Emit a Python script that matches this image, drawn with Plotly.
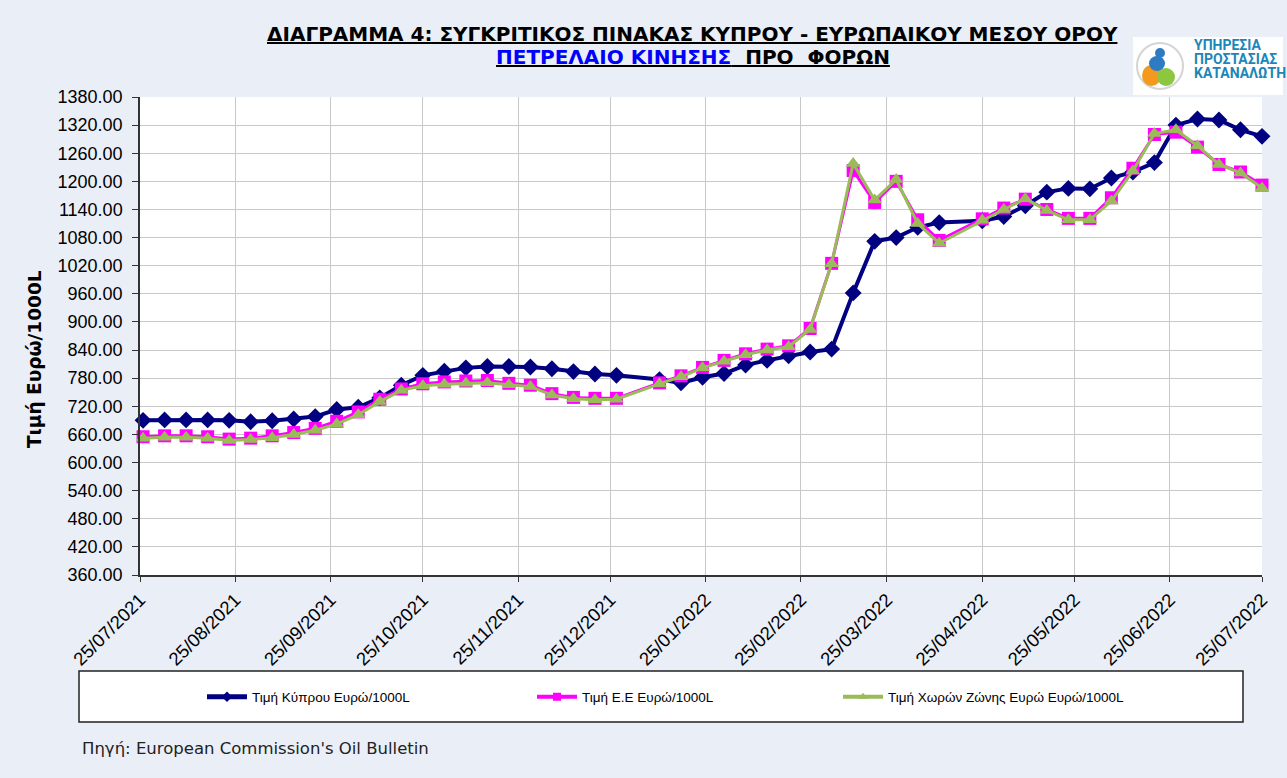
import plotly.graph_objects as go

# ---------------- data ----------------
dates = [
    "2021-07-26", "2021-08-02", "2021-08-09", "2021-08-16", "2021-08-23", "2021-08-30",
    "2021-09-06", "2021-09-13", "2021-09-20", "2021-09-27",
    "2021-10-04", "2021-10-11", "2021-10-18", "2021-10-25",
    "2021-11-01", "2021-11-08", "2021-11-15", "2021-11-22", "2021-11-29",
    "2021-12-06", "2021-12-13", "2021-12-20", "2021-12-27",
    "2022-01-10", "2022-01-17", "2022-01-24", "2022-01-31",
    "2022-02-07", "2022-02-14", "2022-02-21", "2022-02-28",
    "2022-03-07", "2022-03-14", "2022-03-21", "2022-03-28",
    "2022-04-04", "2022-04-11", "2022-04-25",
    "2022-05-02", "2022-05-09", "2022-05-16", "2022-05-23", "2022-05-30",
    "2022-06-06", "2022-06-13", "2022-06-20", "2022-06-27",
    "2022-07-04", "2022-07-11", "2022-07-18", "2022-07-25",
]

cyprus = [
    690, 691, 691, 691, 690, 687,
    689, 693, 698, 713,
    718, 738, 765, 786,
    795, 802, 805, 805, 804,
    800, 794, 789, 786,
    777, 770, 782, 790,
    808, 818, 828, 836,
    842, 962, 1072, 1080,
    1102, 1112, 1116,
    1125, 1148, 1177, 1185, 1184,
    1207, 1220, 1240, 1320,
    1333, 1331, 1310, 1296,
]

eu = [
    655, 657, 657, 655, 650, 652,
    657, 664, 673, 688,
    708, 735, 757, 768,
    772, 774, 775, 769, 765,
    747, 739, 737, 737,
    770, 785, 803, 818,
    832, 842, 849, 886,
    1025, 1223, 1155, 1200,
    1118, 1074, 1120,
    1143, 1162, 1140, 1121, 1121,
    1165, 1228, 1300, 1305,
    1273, 1236, 1220, 1192,
]

eurozone = [
    652, 654, 654, 652, 647, 649,
    653, 660, 669, 682,
    702, 730, 754, 764,
    767, 769, 770, 766, 762,
    744, 736, 734, 735,
    768, 783, 802, 816,
    830, 840, 847, 884,
    1024, 1238, 1160, 1204,
    1110, 1068, 1117,
    1140, 1163, 1138, 1118, 1118,
    1158, 1222, 1302, 1310,
    1276, 1236, 1218, 1186,
]

series_names = [
    "Τιμή Κύπρου Ευρώ/1000L",
    "Τιμή Ε.Ε Ευρώ/1000L",
    "Τιμή Χωρών Ζώνης Ευρώ Ευρώ/1000L",
]

tick_dates = [
    "2021-07-25", "2021-08-25", "2021-09-25", "2021-10-25", "2021-11-25", "2021-12-25",
    "2022-01-25", "2022-02-25", "2022-03-25", "2022-04-25", "2022-05-25", "2022-06-25",
    "2022-07-25",
]
tick_labels = [
    "25/07/2021", "25/08/2021", "25/09/2021", "25/10/2021", "25/11/2021", "25/12/2021",
    "25/01/2022", "25/02/2022", "25/03/2022", "25/04/2022", "25/05/2022", "25/06/2022",
    "25/07/2022",
]

# ---------------- layout helpers ----------------
W, H = 1287, 778
L, R, T, B = 140, 1262, 97, 575
FONT = "Liberation Sans, Arial, sans-serif"
WIDE = "DejaVu Sans, Verdana, sans-serif"


def px(x):
    return (x - L) / (R - L)


def py(y):
    return (B - y) / (B - T)


fig = go.Figure()

styles = [
    dict(color="#000080", width=4, symbol="diamond", size=13),
    dict(color="#FF00FF", width=3, symbol="square", size=13),
    dict(color="#9BBB59", width=3, symbol="triangle-up", size=13),
]
for name, vals, st in zip(series_names, [cyprus, eu, eurozone], styles):
    fig.add_trace(go.Scatter(
        x=dates, y=vals, name=name, mode="lines+markers",
        line=dict(color=st["color"], width=st["width"]),
        marker=dict(symbol=st["symbol"], size=st["size"], color=st["color"]),
        cliponaxis=False, showlegend=False,
    ))
# legend-only entries with small markers, one legend per entry
legend_ids = ["legend", "legend2", "legend3"]
legend_left_px = [202, 532, 838]
for name, st, lid in zip(series_names, styles, legend_ids):
    fig.add_trace(go.Scatter(
        x=[None], y=[None], name=name, mode="lines+markers",
        line=dict(color=st["color"], width=st["width"] + 1),
        marker=dict(symbol=st["symbol"], size=8, color=st["color"]),
        showlegend=True, legend=lid,
    ))

shapes = [
    dict(type="rect", xref="paper", yref="paper",
         x0=px(79), x1=px(1243), y0=py(722), y1=py(671),
         fillcolor="white", line=dict(color="#222222", width=1.5), layer="below"),
    dict(type="rect", xref="paper", yref="paper",
         x0=px(1133), x1=px(1283), y0=py(95), y1=py(37),
         fillcolor="white", line=dict(width=0), layer="below"),
    dict(type="circle", xref="paper", yref="paper",
         x0=px(1137), x1=px(1183), y0=py(89), y1=py(43),
         line=dict(color="#d4d4d4", width=2), fillcolor="rgba(0,0,0,0)"),
    dict(type="circle", xref="paper", yref="paper",
         x0=px(1142), x1=px(1161), y0=py(86), y1=py(65),
         fillcolor="#F39A1E", line=dict(width=0)),
    dict(type="circle", xref="paper", yref="paper",
         x0=px(1157), x1=px(1175), y0=py(86), y1=py(68),
         fillcolor="#8DC63F", line=dict(width=0)),
    dict(type="circle", xref="paper", yref="paper",
         x0=px(1149), x1=px(1165), y0=py(71), y1=py(56),
         fillcolor="#2E7BC4", line=dict(width=0)),
    dict(type="circle", xref="paper", yref="paper",
         x0=px(1155), x1=px(1165), y0=py(58), y1=py(48),
         fillcolor="#2E7BC4", line=dict(width=0)),
]

annotations = [
    dict(xref="paper", yref="paper", x=px(692), y=py(34), xanchor="center", yanchor="middle",
         showarrow=False,
         text="<b><u>ΔΙΑΓΡΑΜΜΑ 4: ΣΥΓΚΡΙΤΙΚΟΣ ΠΙΝΑΚΑΣ ΚΥΠΡΟΥ - ΕΥΡΩΠΑΙΚΟΥ ΜΕΣΟΥ ΟΡΟΥ</u></b>",
         font=dict(family=WIDE, size=20, color="black")),
    dict(xref="paper", yref="paper", x=px(693), y=py(57), xanchor="center", yanchor="middle",
         showarrow=False,
         text="<b><u><span style='color:#0000FF'>ΠΕΤΡΕΛΑΙΟ ΚΙΝΗΣΗΣ</span>\u00a0\u00a0ΠΡΟ\u00a0\u00a0ΦΟΡΩΝ</u></b>",
         font=dict(family=WIDE, size=20, color="black")),
    dict(xref="paper", yref="paper", x=px(35), y=py(359), xanchor="center", yanchor="middle",
         showarrow=False, textangle=-90,
         text="<b>Τιμή Ευρώ/1000L</b>",
         font=dict(family=WIDE, size=18.5, color="black")),
    dict(xref="paper", yref="paper", x=px(80), y=py(748), xanchor="left", yanchor="middle",
         showarrow=False,
         text="Πηγή: European Commission's Oil Bulletin",
         font=dict(family=WIDE, size=16.5, color="#222222")),
]
for i, word in enumerate(["ΥΠΗΡΕΣΙΑ", "ΠΡΟΣΤΑΣΙΑΣ", "ΚΑΤΑΝΑΛΩΤΗ"]):
    annotations.append(dict(
        xref="paper", yref="paper", x=px(1192), y=py(45 + i * 14), xanchor="left", yanchor="middle",
        showarrow=False, text="<b>" + word + "</b>",
        font=dict(family="Liberation Sans Narrow, Roboto, sans-serif", size=14, color="#1C86B8")))

legend_common = dict(
    orientation="h", yanchor="middle", xanchor="left", y=py(697),
    bgcolor="rgba(0,0,0,0)", borderwidth=0,
    font=dict(family=FONT, size=13.5, color="black"), itemwidth=40,
)

fig.update_layout(
    width=W, height=H, autosize=False,
    margin=dict(l=L, r=W - R, t=T, b=H - B),
    paper_bgcolor="#E9EEF7",
    plot_bgcolor="white",
    font=dict(family=FONT, color="black"),
    showlegend=True,
    legend=dict(x=px(legend_left_px[0]), **legend_common),
    legend2=dict(x=px(legend_left_px[1]), **legend_common),
    legend3=dict(x=px(legend_left_px[2]), **legend_common),
    shapes=shapes,
    annotations=annotations,
)

fig.update_xaxes(
    type="date", range=["2021-07-25", "2022-07-25"],
    tickmode="array", tickvals=tick_dates, ticktext=tick_labels,
    tickangle=-45, tickfont=dict(family=FONT, size=18.5, color="black"),
    showgrid=True, gridcolor="#c8c8c8", gridwidth=1,
    showline=True, linecolor="#333333", linewidth=1.5,
    ticks="outside", ticklen=5, tickcolor="#333333",
    zeroline=False,
)
fig.update_yaxes(
    range=[360, 1380], tick0=360, dtick=60, tickformat=".2f",
    tickfont=dict(family=FONT, size=18, color="black"),
    showgrid=True, gridcolor="#c8c8c8", gridwidth=1,
    showline=True, linecolor="#333333", linewidth=1.5,
    ticks="outside", ticklen=6, tickcolor="#333333", ticklabelstandoff=6,
    zeroline=False,
)

fig.write_html(
    "out.html",
    config={"displayModeBar": False},
    post_script="document.body.style.margin='0';document.body.style.overflow='hidden';",
)
